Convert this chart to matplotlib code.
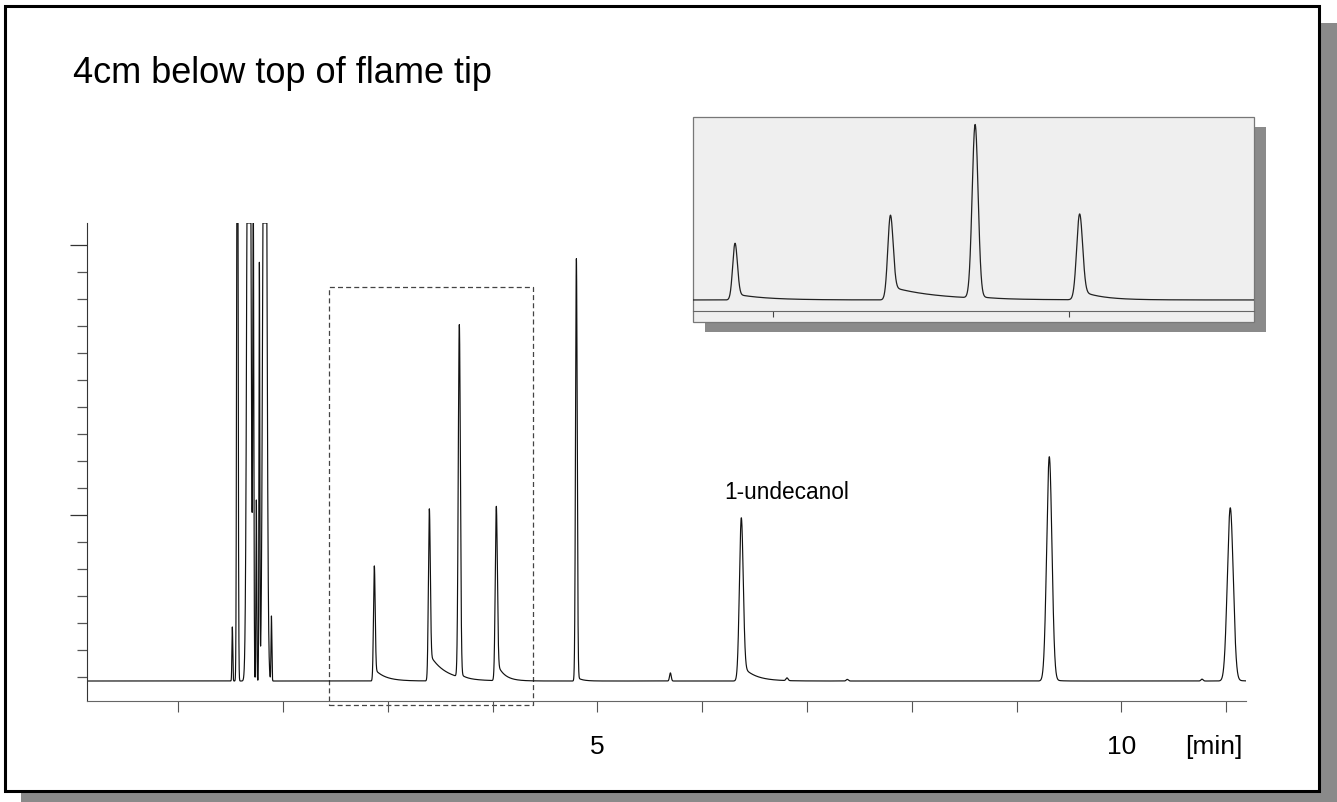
import numpy as np
import matplotlib

matplotlib.use("Agg")
import matplotlib.pyplot as plt
from matplotlib.patches import Rectangle

plt.rcParams["font.family"] = ["Liberation Sans", "DejaVu Sans"]

W, H = 1337, 803

# chromatogram: retention time (min), height above baseline,
# width (sigma, min), tailing amplitude, tailing decay (min)
BASELINE = 3.85
PEAK_T = [1.517, 1.565, 1.675, 1.717, 1.746, 1.775, 1.827, 1.890,
          2.872, 3.397, 3.683, 4.036, 4.800, 5.697, 6.374, 6.810, 7.385,
          9.313, 10.770, 11.040]
PEAK_H = [2.0, 30.0, 40.0, 17.0, 6.7, 15.4, 40.0, 2.4,
          4.26, 6.37, 13.04, 6.45, 15.63, 0.30, 6.04, 0.10, 0.06,
          8.30, 0.07, 6.41]
PEAK_S = [0.004, 0.006, 0.015, 0.005, 0.004, 0.004, 0.015, 0.004,
          0.008, 0.009, 0.010, 0.010, 0.008, 0.008, 0.018, 0.010, 0.010,
          0.025, 0.010, 0.028]
TAIL_A = [0, 0, 0, 0, 0, 0, 0, 0,
          0.45, 1.0, 0.15, 0.7, 0.15, 0, 0.6, 0, 0,
          0.10, 0, 0.10]
TAIL_TAU = [0.05, 0.05, 0.05, 0.05, 0.05, 0.05, 0.05, 0.05,
            0.10, 0.15, 0.05, 0.07, 0.05, 0.05, 0.12, 0.05, 0.05,
            0.05, 0.05, 0.05]

X_RANGE = (0.13, 11.19)
Y_RANGE = (3.11, 20.8)
X_TICKS = list(range(1, 12))
X_LABELS = {5: "5", 10: "10"}

ZOOM_T = (2.443, 4.389)
ZOOM_V = (2.963, 18.44)
INSET_X = (2.73, 4.625)
INSET_Y = (3.02, 17.6)
INSET_TICKS = [3, 4]

TITLE = "4cm below top of flame tip"
PEAK_LABEL = "1-undecanol"
PEAK_LABEL_POS = (6.212, 10.63)
UNIT = "[min]"


def signal(t):
    y = np.full_like(t, BASELINE)
    for t0, h, s, a, tau in zip(PEAK_T, PEAK_H, PEAK_S, TAIL_A, TAIL_TAU):
        d = t - t0
        y += h * np.exp(-0.5 * (d / s) ** 2)
        if a:
            right = d > 0
            y[right] += a * np.exp(-d[right] / tau) * (1 - np.exp(-0.5 * (d[right] / s) ** 2))
    return y


def px_box(x0, y0, x1, y1):
    return [x0 / W, 1 - y1 / H, (x1 - x0) / W, (y1 - y0) / H]


t = np.linspace(X_RANGE[0], X_RANGE[1], 40000)
y = signal(t)

fig = plt.figure(figsize=(W / 100, H / 100), dpi=100)
fig.patch.set_facecolor("white")

# frame with drop shadow
fig.patches.append(Rectangle((21 / W, 0), (W - 21) / W, 1 - 24 / H, transform=fig.transFigure,
                             facecolor="#8a8a8a", edgecolor="none", zorder=-3))
fig.patches.append(Rectangle((5 / W, 1 - 792 / H), 1314 / W, 785 / H, transform=fig.transFigure,
                             facecolor="white", edgecolor="black", linewidth=2.2, zorder=-2))

fig.text(73 / W, 1 - 83 / H, TITLE, fontsize=26, va="baseline", ha="left")

# main chromatogram
ax = fig.add_axes(px_box(87, 224, 1246, 702))
ax.set_zorder(1)
ax.set_facecolor("none")
ax.plot(t, np.minimum(y, Y_RANGE[1]), color="#111111", lw=0.85)
ax.set_xlim(*X_RANGE)
ax.set_ylim(*Y_RANGE)
for side in ("top", "right"):
    ax.spines[side].set_visible(False)
ax.spines["left"].set_color("#333333")
ax.spines["bottom"].set_color("#666666")
ax.set_xticks(X_TICKS)
ax.set_xticklabels([X_LABELS.get(v, "") for v in X_TICKS])
ax.tick_params(axis="x", direction="out", length=8, width=0.8, color="#555555",
               labelsize=19, pad=15.5)
ax.set_yticks([10, 20])
ax.set_yticks(np.arange(4, 21), minor=True)
ax.set_yticklabels([])
ax.tick_params(axis="y", which="major", direction="out", length=12, width=0.9, color="#333333")
ax.tick_params(axis="y", which="minor", direction="out", length=7, width=0.9, color="#555555")

ax.add_patch(Rectangle((ZOOM_T[0], ZOOM_V[0]), ZOOM_T[1] - ZOOM_T[0], ZOOM_V[1] - ZOOM_V[0],
                       fill=False, edgecolor="#444444", linestyle=(0, (4, 2.5)), lw=0.9,
                       clip_on=False))
ax.text(*PEAK_LABEL_POS, PEAK_LABEL, fontsize=16.3, va="baseline", ha="left")
fig.text(1185 / W, 1 - 754 / H, UNIT, fontsize=19, va="baseline", ha="left")

# inset: enlarged view of the dashed region
fig.patches.append(Rectangle((705 / W, 1 - 333 / H), 561 / W, 205 / H, transform=fig.transFigure,
                             facecolor="#8a8a8a", edgecolor="none", zorder=2))
fig.patches.append(Rectangle((693 / W, 1 - 323 / H), 561 / W, 205 / H, transform=fig.transFigure,
                             facecolor="#efefef", edgecolor="#777777", linewidth=0.9, zorder=3))
ins = fig.add_axes(px_box(693, 118, 1254, 312))
ins.set_zorder(4)
ins.set_facecolor("none")
ins.plot(t, y, color="#222222", lw=0.9)
ins.set_xlim(*INSET_X)
ins.set_ylim(*INSET_Y)
for side in ("top", "right", "left"):
    ins.spines[side].set_visible(False)
ins.spines["bottom"].set_color("#666666")
ins.set_xticks(INSET_TICKS)
ins.set_xticklabels([])
ins.set_yticks([])
ins.tick_params(axis="x", direction="out", length=4, width=0.8, color="#444444")

fig.savefig("out.png", dpi=100)
